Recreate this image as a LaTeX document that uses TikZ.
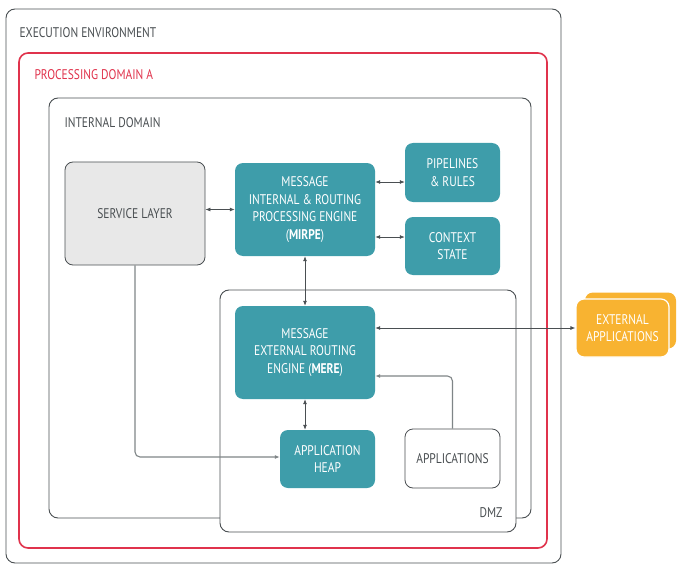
\documentclass[tikz,border=0pt]{standalone}
\usepackage{fontspec}
\setmainfont{PT Sans}[FakeStretch=0.82]
\usetikzlibrary{arrows.meta}
\definecolor{teal1}{HTML}{3E9DAA}
\definecolor{txtgray}{HTML}{4A4F52}
\definecolor{linegray}{HTML}{7F8587}
\definecolor{domred}{HTML}{E0334C}
\definecolor{extorange}{HTML}{F8B331}
\tikzset{
  container/.style={draw=txtgray, line width=0.9pt, rounded corners=9pt},
  title/.style={anchor=west, text=txtgray, font=\fontsize{14}{16}\selectfont},
  engine/.style={fill=teal1, draw=none, rounded corners=8pt, text=white,
    align=center, font=\fontsize{14}{17.5}\selectfont},
  plainbox/.style={draw=txtgray, line width=0.8pt, rounded corners=8pt,
    text=txtgray, align=center, font=\fontsize{14}{17.5}\selectfont},
  extbox/.style={fill=extorange, rounded corners=8pt, text=white,
    align=center, font=\fontsize{14}{17}\selectfont},
  biarrow/.style={draw=txtgray, line width=0.8pt, {Latex[length=5pt,width=4pt]}-{Latex[length=5pt,width=4pt]}},
  onearrow/.style={draw=linegray, line width=1.1pt, -{Latex[length=5pt,width=4pt,fill=txtgray]}, rounded corners=5pt}
}

\begin{document}
\begin{tikzpicture}[x=1pt, y=-1pt]
	\useasboundingbox (0,0) rectangle (688,575);
	% nested domains
	\draw[container] (6,9) rectangle (561,563);
	\node[title] (envlabel) at (16,33) {EXECUTION ENVIRONMENT};
	\draw[draw=domred, line width=1.6pt, rounded corners=9pt] (19,53) rectangle (547,548);
	\node[title, text=domred] (domlabel) at (31,75) {PROCESSING DOMAIN A};
	\draw[container] (49,98) rectangle (531,518);
	\node[title] (intlabel) at (61,123) {INTERNAL DOMAIN};
	\draw[container, fill=white] (220,290) rectangle (516,532);
	\node[title, anchor=east] (dmzlabel) at (506,513) {DMZ};

	% boxes
	\node[plainbox, fill=gray!18, minimum width=140pt, minimum height=103pt] (svc) at (135,213.5) {SERVICE LAYER};
	\node[engine, minimum width=140pt, minimum height=93pt] (mirpe) at (305,209.5)
		{MESSAGE\\INTERNAL \& ROUTING\\PROCESSING ENGINE\\(\textbf{MIRPE})};
	\node[engine, minimum width=95pt, minimum height=59pt] (pipes) at (452.5,172.5) {PIPELINES\\\& RULES};
	\node[engine, minimum width=95pt, minimum height=58pt] (ctx) at (452.5,246) {CONTEXT\\STATE};
	\node[engine, minimum width=140pt, minimum height=93pt] (mere) at (305,352.5)
		{MESSAGE\\EXTERNAL ROUTING\\ENGINE (\textbf{MERE})};
	\node[engine, minimum width=95pt, minimum height=58pt] (heap) at (327.5,459) {APPLICATION\\HEAP};
	\node[plainbox, fill=white, minimum width=95pt, minimum height=59pt] (apps) at (452.5,458.5) {APPLICATIONS};
	\node[extbox, minimum width=91pt, minimum height=56pt] (extback) at (630.5,320.5) {};
	\node[extbox, draw=white, line width=1.2pt, minimum width=93pt, minimum height=58pt] (ext) at (622.5,328) {EXTERNAL\\APPLICATIONS};

	% connectors
	\draw[biarrow] (svc.east |- mirpe.west) -- (mirpe.west);
	\draw[biarrow] ([yshift=27.5pt]mirpe.east) -- ([yshift=27.5pt]mirpe.east -| pipes.west);
	\draw[biarrow] ([yshift=-27.5pt]mirpe.east) -- ([yshift=-27.5pt]mirpe.east -| ctx.west);
	\draw[biarrow] (mirpe.south) -- (mere.north);
	\draw[biarrow] (mere.south) -- (mere.south |- heap.north);
	\draw[biarrow] (ext.west -| mere.east) -- (ext.west);
	\draw[onearrow] (apps.north) |- ([yshift=-23.5pt]mere.east);
	\draw[onearrow] (svc.south) |- ([yshift=2pt]heap.west);
\end{tikzpicture}
\end{document}
